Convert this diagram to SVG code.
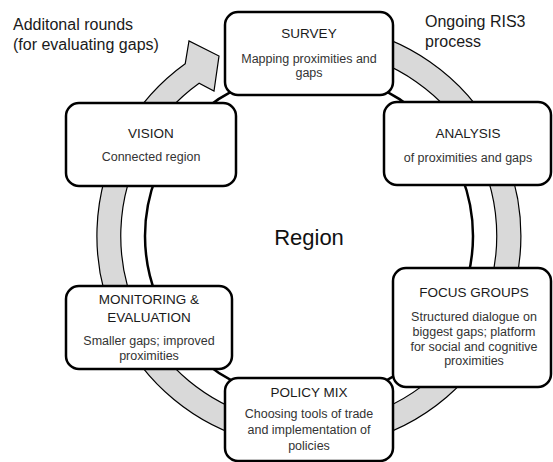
<svg xmlns="http://www.w3.org/2000/svg" width="553" height="462" viewBox="0 0 553 462">
<style>
.box{fill:#fff;stroke:#000;stroke-width:2.5}
.t{font-family:"Liberation Sans",Arial,sans-serif;font-size:13.5px;fill:#1a1a1a;text-anchor:middle}
.s{font-family:"Liberation Sans",Arial,sans-serif;font-size:12.5px;fill:#333;text-anchor:middle}
.note{font-family:"Liberation Sans",Arial,sans-serif;font-size:16px;fill:#1a1a1a}
</style>
<rect width="553" height="462" fill="#fff"/>
<g id="connectors">
<path d="M 345.8 27.2 A 212 212 0 1 1 185.2 63.8 L 189 41 L 219 56 L 214 91 L 199.1 83.3 A 188 188 0 1 0 341.6 50.9 Z" fill="#d9d9d9" stroke="#000" stroke-width="1.2"/>
</g>
<g id="region">
<circle cx="309" cy="236" r="164" fill="none" stroke="#000" stroke-width="2.5"/>
<text x="309" y="245" font-family="Liberation Sans,Arial,sans-serif" font-size="22" fill="#111" text-anchor="middle">Region</text>
</g>
<g id="survey">
<rect class="box" x="225" y="12" width="168" height="83" rx="13"/>
<text class="t" x="309" y="38">SURVEY</text>
<text class="s" x="309" y="63">Mapping proximities and</text>
<text class="s" x="309" y="77">gaps</text>
</g>
<g id="analysis">
<rect class="box" x="384" y="102" width="167" height="83" rx="13"/>
<text class="t" x="468" y="138">ANALYSIS</text>
<text class="s" x="468" y="162">of proximities and gaps</text>
</g>
<g id="focus-groups">
<rect class="box" x="393" y="268" width="158" height="119" rx="13"/>
<text class="t" x="474" y="297">FOCUS GROUPS</text>
<text class="s" x="474" y="321">Structured dialogue on</text>
<text class="s" x="474" y="336">biggest gaps; platform</text>
<text class="s" x="474" y="351">for social and cognitive</text>
<text class="s" x="474" y="365">proximities</text>
</g>
<g id="policy-mix">
<rect class="box" x="225" y="378" width="168" height="83" rx="13"/>
<text class="t" x="309" y="397">POLICY MIX</text>
<text class="s" x="309" y="418">Choosing tools of trade</text>
<text class="s" x="309" y="434">and implementation of</text>
<text class="s" x="309" y="450">policies</text>
</g>
<g id="monitoring">
<rect class="box" x="66" y="286" width="166" height="83" rx="13"/>
<text class="t" x="149" y="304">MONITORING &amp;</text>
<text class="t" x="149" y="322">EVALUATION</text>
<text class="s" x="149" y="345">Smaller gaps; improved</text>
<text class="s" x="149" y="360">proximities</text>
</g>
<g id="vision">
<rect class="box" x="66" y="103" width="170" height="83" rx="13"/>
<text class="t" x="151" y="138">VISION</text>
<text class="s" x="151" y="161">Connected region</text>
</g>
<text class="note" x="13" y="30">Additonal rounds</text>
<text class="note" x="13" y="50">(for evaluating gaps)</text>
<text class="note" x="425" y="27">Ongoing RIS3</text>
<text class="note" x="425" y="47">process</text>
</svg>
